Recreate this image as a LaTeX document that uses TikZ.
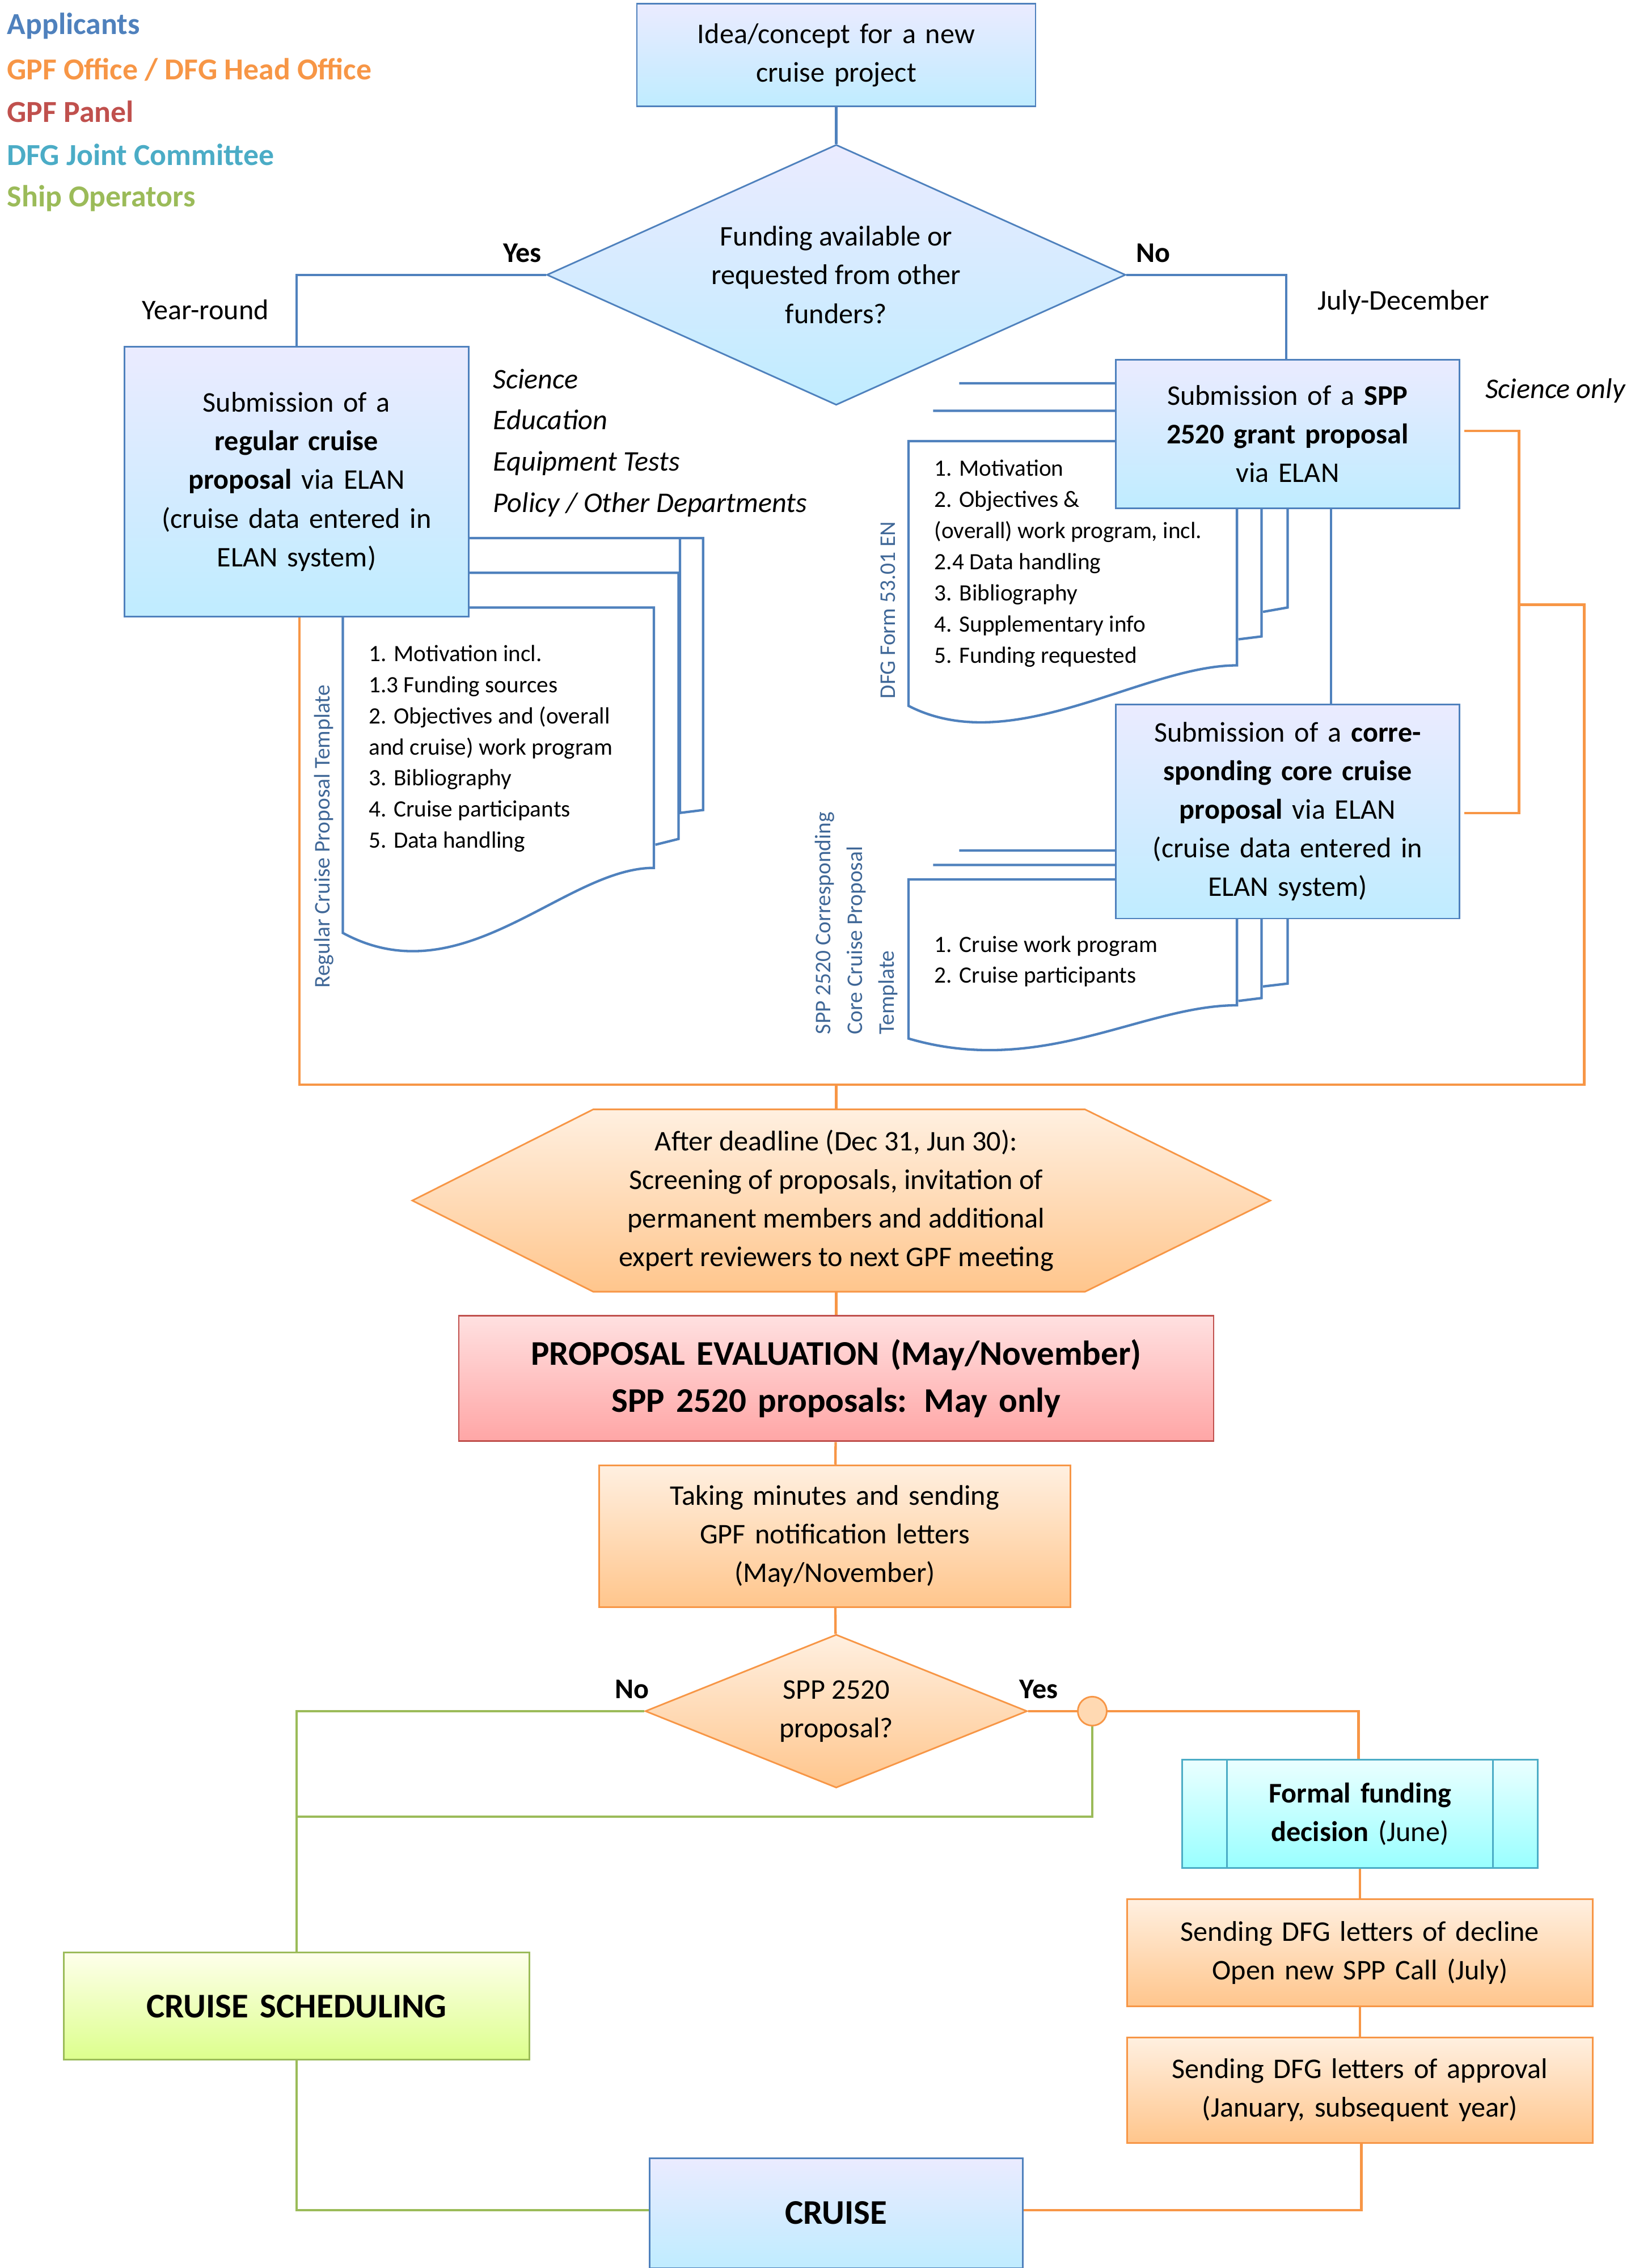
\documentclass[tikz,border=0pt]{standalone}
\usepackage{fontspec}
\setmainfont{Carlito}
\usetikzlibrary{positioning,shapes.geometric,shapes.misc}
\definecolor{bLine}{HTML}{4F81BD}
\definecolor{oLine}{HTML}{F79646}
\definecolor{rLine}{HTML}{C0504D}
\definecolor{cLine}{HTML}{4BACC6}
\definecolor{gLine}{HTML}{9BBB59}
\begin{document}
\begin{tikzpicture}[x=0.025cm,y=-0.025cm,>=latex]

    %
    % Styles for boxes and connectors
    %
    \tikzstyle{box} = [draw, thick, rectangle, align=center, inner sep=2pt, font={\fontsize{14}{19}\selectfont}]
    \tikzstyle{blueBox} = [box, draw=bLine, top color=blue!8, bottom color=blue!30!cyan!25]
    \tikzstyle{orangeBox} = [box, draw=oLine, top color=orange!12, bottom color=orange!45]
    \tikzstyle{redBox} = [box, draw=rLine, top color=red!12, bottom color=red!35]
    \tikzstyle{cyanBox} = [box, draw=cLine, top color=cyan!8, bottom color=cyan!40]
    \tikzstyle{greenBox} = [box, draw=gLine, top color=green!5!yellow!8, bottom color=green!30!yellow!45]
    \tikzstyle{blueFlow} = [bLine, very thick];
    \tikzstyle{orangeFlow} = [oLine, very thick];
    \tikzstyle{greenFlow} = [gLine, very thick];
    \tikzstyle{page} = [draw=bLine, very thick, fill=white];
    \tikzstyle{legend} = [anchor=west, font={\fontsize{15}{18}\selectfont\bfseries}];
    \tikzstyle{listText} = [anchor=north west, align=left, font={\fontsize{11.5}{15.3}\selectfont}];
    \tikzstyle{sideText} = [rotate=90, anchor=west, text=bLine!80!black, font={\fontsize{11}{13}\selectfont}];
    \tikzstyle{answer} = [font={\fontsize{14}{17}\selectfont\bfseries}];
    \tikzstyle{plain} = [font={\fontsize{14}{17}\selectfont}];

    \useasboundingbox (0,0) rectangle (1130,1568);

    %
    % Legend
    %
    \node[legend, text=bLine] (lgApp) at (0,18) {Applicants};
    \node[legend, text=oLine] (lgOff) at (0,48) {GPF Office / DFG Head Office};
    \node[legend, text=rLine] (lgPan) at (0,77) {GPF Panel};
    \node[legend, text=cLine] (lgJoint) at (0,107) {DFG Joint Committee};
    \node[legend, text=gLine] (lgShip) at (0,137) {Ship Operators};

    %
    % Orange frame behind the proposals
    %
    \draw[orangeFlow] (207,427) -- (207,750) -- (1095,750) -- (1095,418) -- (1050,418);
    \draw[orangeFlow] (1012,298) -- (1050,298) -- (1050,562) -- (1012,562);
    \draw[orangeFlow] (578,750) -- (578,767);

    %
    % Template pages
    %
    \draw[page] (270,372) -- (486,372) -- (486,560) -- (470,562) -- (470,372);
    \draw[page] (255,396) -- (469,396) -- (469,580) -- (453,584);
    \draw[page] (237,420) -- (452,420) -- (452,600) .. controls (390,600) and (320,690) .. (237,645) -- cycle;
    \node[listText] (regList) at (250,441) {1. Motivation incl.\\1.3 Funding sources\\2. Objectives and (overall\\and cruise) work program\\3. Bibliography\\4. Cruise participants\\5. Data handling};
    \node[sideText] (regSide) at (224,688) {Regular Cruise Proposal Template};

    \draw[page] (663,265) -- (890,265) -- (890,420) -- (873,423);
    \draw[page] (645,284) -- (872,284) -- (872,440) -- (856,442);
    \draw[page] (628,305) -- (855,305) -- (855,460) .. controls (790,460) and (700,525) .. (628,488) -- cycle;
    \node[listText] (sppList) at (641,313) {1. Motivation\\2. Objectives \&\\(overall) work program, incl.\\2.4 Data handling\\3. Bibliography\\4. Supplementary info\\5. Funding requested};
    \node[sideText] (sppSide) at (614,488) {DFG Form 53.01 EN};

    \draw[page] (663,588) -- (890,588) -- (890,680) -- (873,682);
    \draw[page] (645,598) -- (872,598) -- (872,690) -- (856,692);
    \draw[page] (628,608) -- (855,608) -- (855,695) .. controls (790,695) and (720,745) .. (628,718) -- cycle;
    \node[listText] (coreList) at (641,642) {1. Cruise work program\\2. Cruise participants};
    \node[sideText] (coreSide1) at (570,720) {SPP 2520 Corresponding};
    \node[sideText] (coreSide2) at (592,720) {Core Cruise Proposal};
    \node[sideText] (coreSide3) at (614,720) {Template};

    %
    % Applicant boxes
    %
    \node[blueBox, minimum width=245\pgflinewidth, text width=5.6cm, minimum height=1.775cm] (idea) at (578,38) {Idea/concept for a new\\cruise project};
    \node[draw=bLine, thick, diamond, aspect=2.2, top color=blue!8, bottom color=blue!30!cyan!25, minimum width=10cm, minimum height=4.5cm, align=center, font={\fontsize{14}{19}\selectfont}] (funding) at (578,190) {Funding available or\\requested from other\\funders?};
    \node[blueBox, text width=5.8cm, minimum height=4.67cm] (regular) at (205,333) {Submission of a\\\textbf{regular cruise}\\\textbf{proposal} via ELAN\\(cruise data entered in\\ELAN system)};
    \node[blueBox, text width=5.8cm, minimum height=2.57cm] (spp) at (890,300) {Submission of a \textbf{SPP}\\\textbf{2520 grant proposal}\\via ELAN};
    \node[blueBox, text width=5.8cm, minimum height=3.7cm] (core) at (890,561) {Submission of a \textbf{corre-}\\\textbf{sponding core cruise}\\\textbf{proposal} via ELAN\\(cruise data entered in\\ELAN system)};

    \node[plain, anchor=north west, align=left, font={\fontsize{14}{20.3}\selectfont\itshape}] (topics) at (336,250) {Science\\Education\\Equipment Tests\\Policy / Other Departments};
    \node[plain, font={\fontsize{14}{17}\selectfont\itshape}] (sciOnly) at (1075,270) {Science only};
    \node[plain] (yearRound) at (142,214) {Year-round};
    \node[plain] (julDec) at (970,209) {July-December};
    \node[answer] (yes1) at (361,175) {Yes};
    \node[answer] (no1) at (797,175) {No};

    \draw[blueFlow] (idea) -- (funding);
    \draw[blueFlow] (funding.west) -- (205,190) -- (regular.north);
    \draw[blueFlow] (funding.east) -- (889,190) -- (spp.north -| 889,0);
    \draw[blueFlow] (spp.south -| 920,0) -- (core.north -| 920,0);

    %
    % Evaluation
    %
    \node[draw=oLine, thick, top color=orange!12, bottom color=orange!45, align=center, font={\fontsize{14}{19}\selectfont}] (screening) at (578,830) {After deadline (Dec 31, Jun 30):\\Screening of proposals, invitation of\\permanent members and additional\\expert reviewers to next GPF meeting};
    \path[draw=oLine, thick, top color=orange!12, bottom color=orange!45] (285,830) -- (410,767) -- (750,767) -- (878,830) -- (750,893) -- (410,893) -- cycle;
    \node[align=center, font={\fontsize{14}{19}\selectfont}] at (578,830) {After deadline (Dec 31, Jun 30):\\Screening of proposals, invitation of\\permanent members and additional\\expert reviewers to next GPF meeting};
    \node[redBox, text width=12.9cm, minimum height=2.17cm, font={\fontsize{17}{23}\selectfont\bfseries}] (evaluation) at (578,953) {PROPOSAL EVALUATION (May/November)\\SPP 2520 proposals: May only};
    \node[orangeBox, text width=8cm, minimum height=2.45cm] (minutes) at (577,1062) {Taking minutes and sending\\GPF notification letters\\(May/November)};
    \node[draw=oLine, thick, diamond, aspect=2.5, top color=orange!12, bottom color=orange!45, minimum width=6.6cm, minimum height=2.65cm, align=center, font={\fontsize{14}{19}\selectfont}] (sppQ) at (578,1183) {SPP 2520\\proposal?};
    \node[answer] (no2) at (437,1168) {No};
    \node[answer] (yes2) at (718,1168) {Yes};

    \draw[orangeFlow] (578,893) -- (evaluation);
    \draw[orangeFlow] (evaluation) -- (minutes);
    \draw[orangeFlow] (minutes) -- (sppQ);

    %
    % Funding decision and scheduling
    %
    \node[cyanBox, text width=6cm, minimum height=1.87cm] (formal) at (940,1254) {\textbf{Formal funding}\\\textbf{decision} (June)};
    \draw[cLine, thick] (848,1217) -- (848,1292) (1032,1217) -- (1032,1292);
    \node[orangeBox, text width=7.9cm, minimum height=1.85cm] (decline) at (940,1350) {Sending DFG letters of decline\\Open new SPP Call (July)};
    \node[orangeBox, text width=7.9cm, minimum height=1.82cm] (approval) at (940,1445) {Sending DFG letters of approval\\(January, subsequent year)};
    \node[greenBox, text width=7.9cm, minimum height=1.85cm, font={\fontsize{17}{20}\selectfont\bfseries}] (scheduling) at (205,1387) {CRUISE SCHEDULING};
    \node[blueBox, text width=6.3cm, minimum height=1.9cm, font={\fontsize{17}{20}\selectfont\bfseries}] (cruise) at (578,1530) {CRUISE};

    \coordinate (junction) at (755,1183);
    \draw[greenFlow] (sppQ.west) -- (205,1183) -- (scheduling.north);
    \draw[greenFlow] (junction) -- (755,1256) -- (205,1256);
    \draw[greenFlow] (scheduling.south) -- (205,1528) -- (cruise.west |- 0,1528);
    \draw[orangeFlow] (sppQ.east) -- (939,1183) -- (formal.north -| 939,0);
    \draw[orangeFlow] (formal) -- (decline);
    \draw[orangeFlow] (decline) -- (approval);
    \draw[orangeFlow] (approval.south -| 941,0) -- (941,1528) -- (cruise.east |- 0,1528);
    \node[circle, draw=oLine, thick, fill=orange!30, minimum size=0.5cm, inner sep=0pt] (knot) at (junction) {};
  \end{tikzpicture}
\end{document}
